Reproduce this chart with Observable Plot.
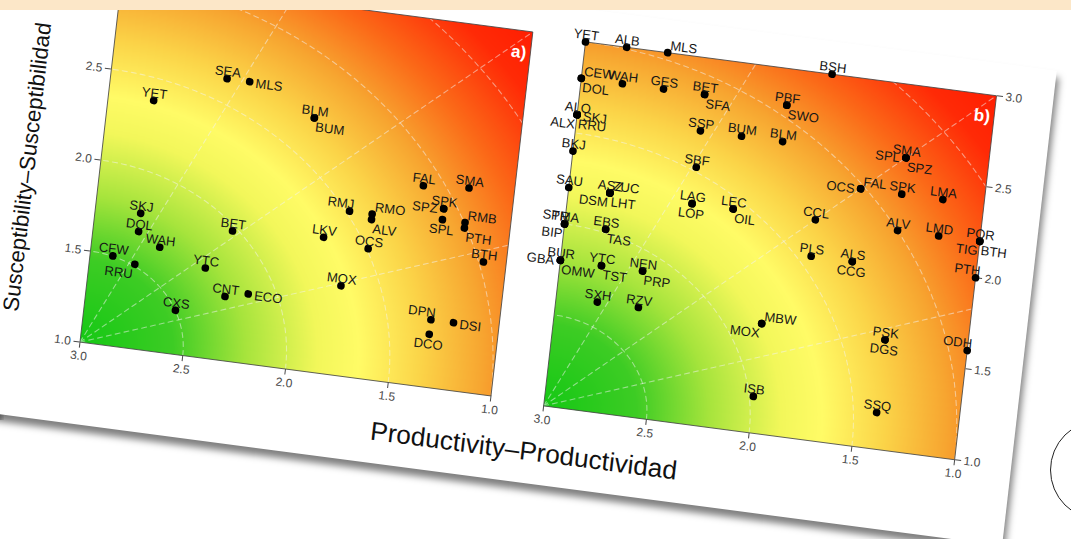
<!DOCTYPE html>
<html>
<head>
<meta charset="utf-8">
<script src="https://cdn.jsdelivr.net/npm/d3@7"></script>
<script src="https://cdn.jsdelivr.net/npm/@observablehq/plot@0.6"></script>
<style>
html, body { margin:0; padding:0; background:#fff; width:1071px; height:539px; overflow:hidden; position:relative; font-family:"Liberation Sans", Arial, sans-serif; }
#band { position:absolute; left:0; top:0; width:1071px; height:10px; background:#fce7c8; z-index:10; }
#fig { position:absolute; left:76.46px; top:-68.55px; width:1000px; height:520px; transform-origin:0 0; transform:matrix(1,0.131,-0.115,1,0,0); }
#paper { position:absolute; left:-300px; top:11px; width:1282px; height:475px; background:#fff; box-shadow:3px 7px 7px rgba(0,0,0,0.5); }
.panel { position:absolute; }
.panel svg { overflow:visible; max-width:none; }
#ylab { position:absolute; left:-171px; top:220px; width:300px; height:26px; line-height:26px; text-align:left; font-size:22px; color:#111; transform:rotate(-90deg); transform-origin:150px 13px; white-space:nowrap; }
#xlab { position:absolute; left:330px; top:439px; width:340px; text-align:center; font-size:26px; color:#111; white-space:nowrap; }
#circle { position:absolute; left:1050px; top:420px; width:100px; height:100px; border:1.5px solid #222; border-radius:50%; box-sizing:border-box; }
#edge { position:absolute; left:0; top:325px; width:4px; height:95px; background:linear-gradient(to right,#bbb,#eee); }
</style>
</head>
<body>
<div id="band"></div>
<div id="edge"></div>
<div id="fig">
  <div id="paper"></div>
  <div class="panel" id="pa" style="left:0px;top:0px;width:471px;height:444px"></div>
  <div class="panel" id="pb" style="left:470px;top:3px;width:511px;height:444px"></div>
  <div id="ylab">Susceptibility–Susceptibilidad</div>
  <div id="xlab">Productivity–Productividad</div>
</div>
<div id="circle"></div>
<script>
// ---- Panel a data ----
const speciesA = ["YET","SEA","MLS","BLM","BUM","FAL","SMA","SKJ","DOL","WAH","CFW","RRU","BET","YTC","CNT","ECO","CXS","RMJ","RMO","ALV","LKV","OCS","MOX","SPK","SPZ","SPL","RMB","PTH","BTH","DPN","DSI","DCO"];
const productivityA = [2.78,2.44,2.33,2.00,2.00,1.44,1.22,2.78,2.78,2.67,2.89,2.78,2.33,2.44,2.33,2.22,2.56,1.78,1.67,1.67,1.89,1.67,1.78,1.33,1.33,1.33,1.22,1.22,1.11,1.33,1.22,1.33];
const susceptibilityA = [2.36,2.53,2.53,2.38,2.38,2.09,2.11,1.74,1.64,1.57,1.49,1.46,1.71,1.49,1.35,1.38,1.24,1.90,1.90,1.87,1.74,1.71,1.49,1.98,1.98,1.92,1.92,1.89,1.72,1.37,1.37,1.29];

// ---- Panel b data ----
const speciesB = ["YET","ALB","MLS","BSH","CEW","DOL","WAH","GES","BET","SFA","PBF","SWO","ALO","SKJ","ALX","RRU","SSP","BUM","BLM","SMA","SPL","SPZ","BKJ","SBF","OCS","FAL","SPK","LMA","SAU","ASZ","ZUC","DSM","LHT","LAG","LOP","LEC","OIL","CCL","ALV","LMD","POR","TIG","BTH","SPR","TMA","BIP","EBS","TAS","PLS","ALS","CCG","PTH","BUR","GBA","OMW","YTC","TST","NEN","PRP","SXH","RZV","MBW","MOX","PSK","DGS","ODH","ISB","SSQ"];
const productivityB = [3.0,2.8,2.6,1.8,3.0,3.0,2.8,2.6,2.4,2.4,2.0,2.0,3.0,3.0,3.0,3.0,2.4,2.2,2.0,1.4,1.4,1.4,3.0,2.4,1.6,1.6,1.4,1.2,3.0,2.8,2.8,2.8,2.8,2.4,2.4,2.2,2.2,1.8,1.4,1.2,1.0,1.0,1.0,3.0,3.0,3.0,2.8,2.8,1.8,1.6,1.6,1.0,3.0,3.0,3.0,2.8,2.8,2.6,2.6,2.8,2.6,2.0,2.0,1.4,1.4,1.0,2.0,1.4];
const susceptibilityB = [3.0,3.0,3.0,3.0,2.8,2.8,2.8,2.8,2.8,2.8,2.8,2.8,2.6,2.6,2.6,2.6,2.6,2.6,2.6,2.6,2.6,2.6,2.4,2.4,2.4,2.4,2.4,2.4,2.2,2.2,2.2,2.2,2.2,2.2,2.2,2.2,2.2,2.2,2.2,2.2,2.2,2.2,2.2,2.0,2.0,2.0,2.0,2.0,2.0,2.0,2.0,2.0,1.8,1.8,1.8,1.8,1.8,1.8,1.8,1.6,1.6,1.6,1.6,1.6,1.6,1.6,1.2,1.2];

const xTicks = [3.0, 2.5, 2.0, 1.5, 1.0];
const yTicksA = [1.0, 1.5, 2.0, 2.5];
const yTicksB = [1.0, 1.5, 2.0, 2.5, 3.0];

// ---- label placement (layout only) ----
const placeA = {BUM:"se",MLS:"e",RMJ:"nw",RMO:"ne",ALV:"se",SPZ:"w",SPL:"s",RMB:"ne",PTH:"se",DPN:"nw",DSI:"e",DCO:"s",RRU:"sw",ECO:"e"};
const placeB = {MLS:"ne",CEW:"ne",DOL:"se",SFA:"se",SWO:"se",SKJ:"e",ALX:"sw",RRU:"se",SPL:"w",SPZ:"se",OCS:"w",FAL:"ne",ZUC:"ne",DSM:"sw",LHT:"se",LOP:"s",OIL:"se",TIG:"sw",BTH:"se",SPR:"nw",BIP:"sw",TAS:"se",CCG:"s",GBA:"w",OMW:"se",TST:"se",PRP:"se",MBW:"ne",MOX:"sw",DGS:"s",ODH:"nw",PTH:"nw"};

const offsets = {
  n:[0,-7,"middle"], s:[0,10,"middle"], e:[6,1,"start"], w:[-6,1,"end"],
  ne:[2,-7,"start"], nw:[4,-7,"end"], se:[2,9,"start"], sw:[-1,10,"end"]
};

// polar guide lines centred at (3,1)
const guides = [];
[0.5,1,1.5,2,2.5].forEach((r,k) => { for (let a=0; a<=90; a+=2) { const t=a*Math.PI/180; guides.push({id:"r"+k, x:3-r*Math.cos(t), y:1+r*Math.sin(t)}); } });
[22.5,45,67.5].forEach((a,k) => { const t=a*Math.PI/180; guides.push({id:"a"+k,x:3,y:1}); guides.push({id:"a"+k,x:3-3*Math.cos(t),y:1+3*Math.sin(t)}); });

function panel(names, xs, ys, place, tag, side, yTicks, ml, mr) {
  const data = names.map((n,i) => ({name:n, x:xs[i], y:ys[i], pos: place[n] || "n"}));
  const texts = Object.entries(offsets).map(([k,[dx,dy,anchor]]) =>
    Plot.text(data.filter(d => d.pos === k), {x:"x", y:"y", text:"name", dx, dy, textAnchor:anchor, fontSize:13, fill:"#161616"}));
  return Plot.plot({
    width: ml + 411 + mr, height: 444,
    marginLeft: ml, marginRight: mr, marginTop: 40, marginBottom: 40,
    style: {fontFamily:"Liberation Sans, Arial, sans-serif", fontSize:"12px", color:"#4a4a4a", background:"transparent", overflow:"visible"},
    x: {domain:[3,1], ticks: xTicks, tickFormat: d3.format(".1f"), label:null, tickSize:6},
    y: {domain:[1,3], ticks: yTicks, tickFormat: d3.format(".1f"), label:null, axis: side, tickSize:6},
    color: {type:"linear", domain:[0,0.45,0.8,1.15,1.35,1.65,1.95,2.25,2.6,2.9],
            range:["#14c814","#3dcc24","#a6e43c","#f2f75a","#fffb66","#fbd448","#f7a530","#fb6a18","#ff2a06","#ff1a00"], clamp:true},
    marks: [
      Plot.raster({fill:(x,y) => Math.hypot(3-x, y-1), x1:3, x2:1, y1:1, y2:3, pixelSize:1}),
      Plot.line(guides, {x:"x", y:"y", z:"id", stroke:"#f4f4f4", strokeOpacity:0.5, strokeWidth:1.1, strokeDasharray:"5,4", clip:true}),
      Plot.frame({stroke:"#444", strokeWidth:0.8}),
      Plot.dot(data, {x:"x", y:"y", r:3.8, fill:"#000"}),
      ...texts,
      Plot.text([tag], {text:d=>d, frameAnchor:"top-right", dx:-4, dy:15, textAnchor:"end", fill:"#fff", fontWeight:"bold", fontSize:17})
    ]
  });
}

document.getElementById("pa").appendChild(panel(speciesA, productivityA, susceptibilityA, placeA, "a)", "left", yTicksA, 50, 10));
document.getElementById("pb").appendChild(panel(speciesB, productivityB, susceptibilityB, placeB, "b)", "right", yTicksB, 44, 56));
</script>
</body>
</html>
